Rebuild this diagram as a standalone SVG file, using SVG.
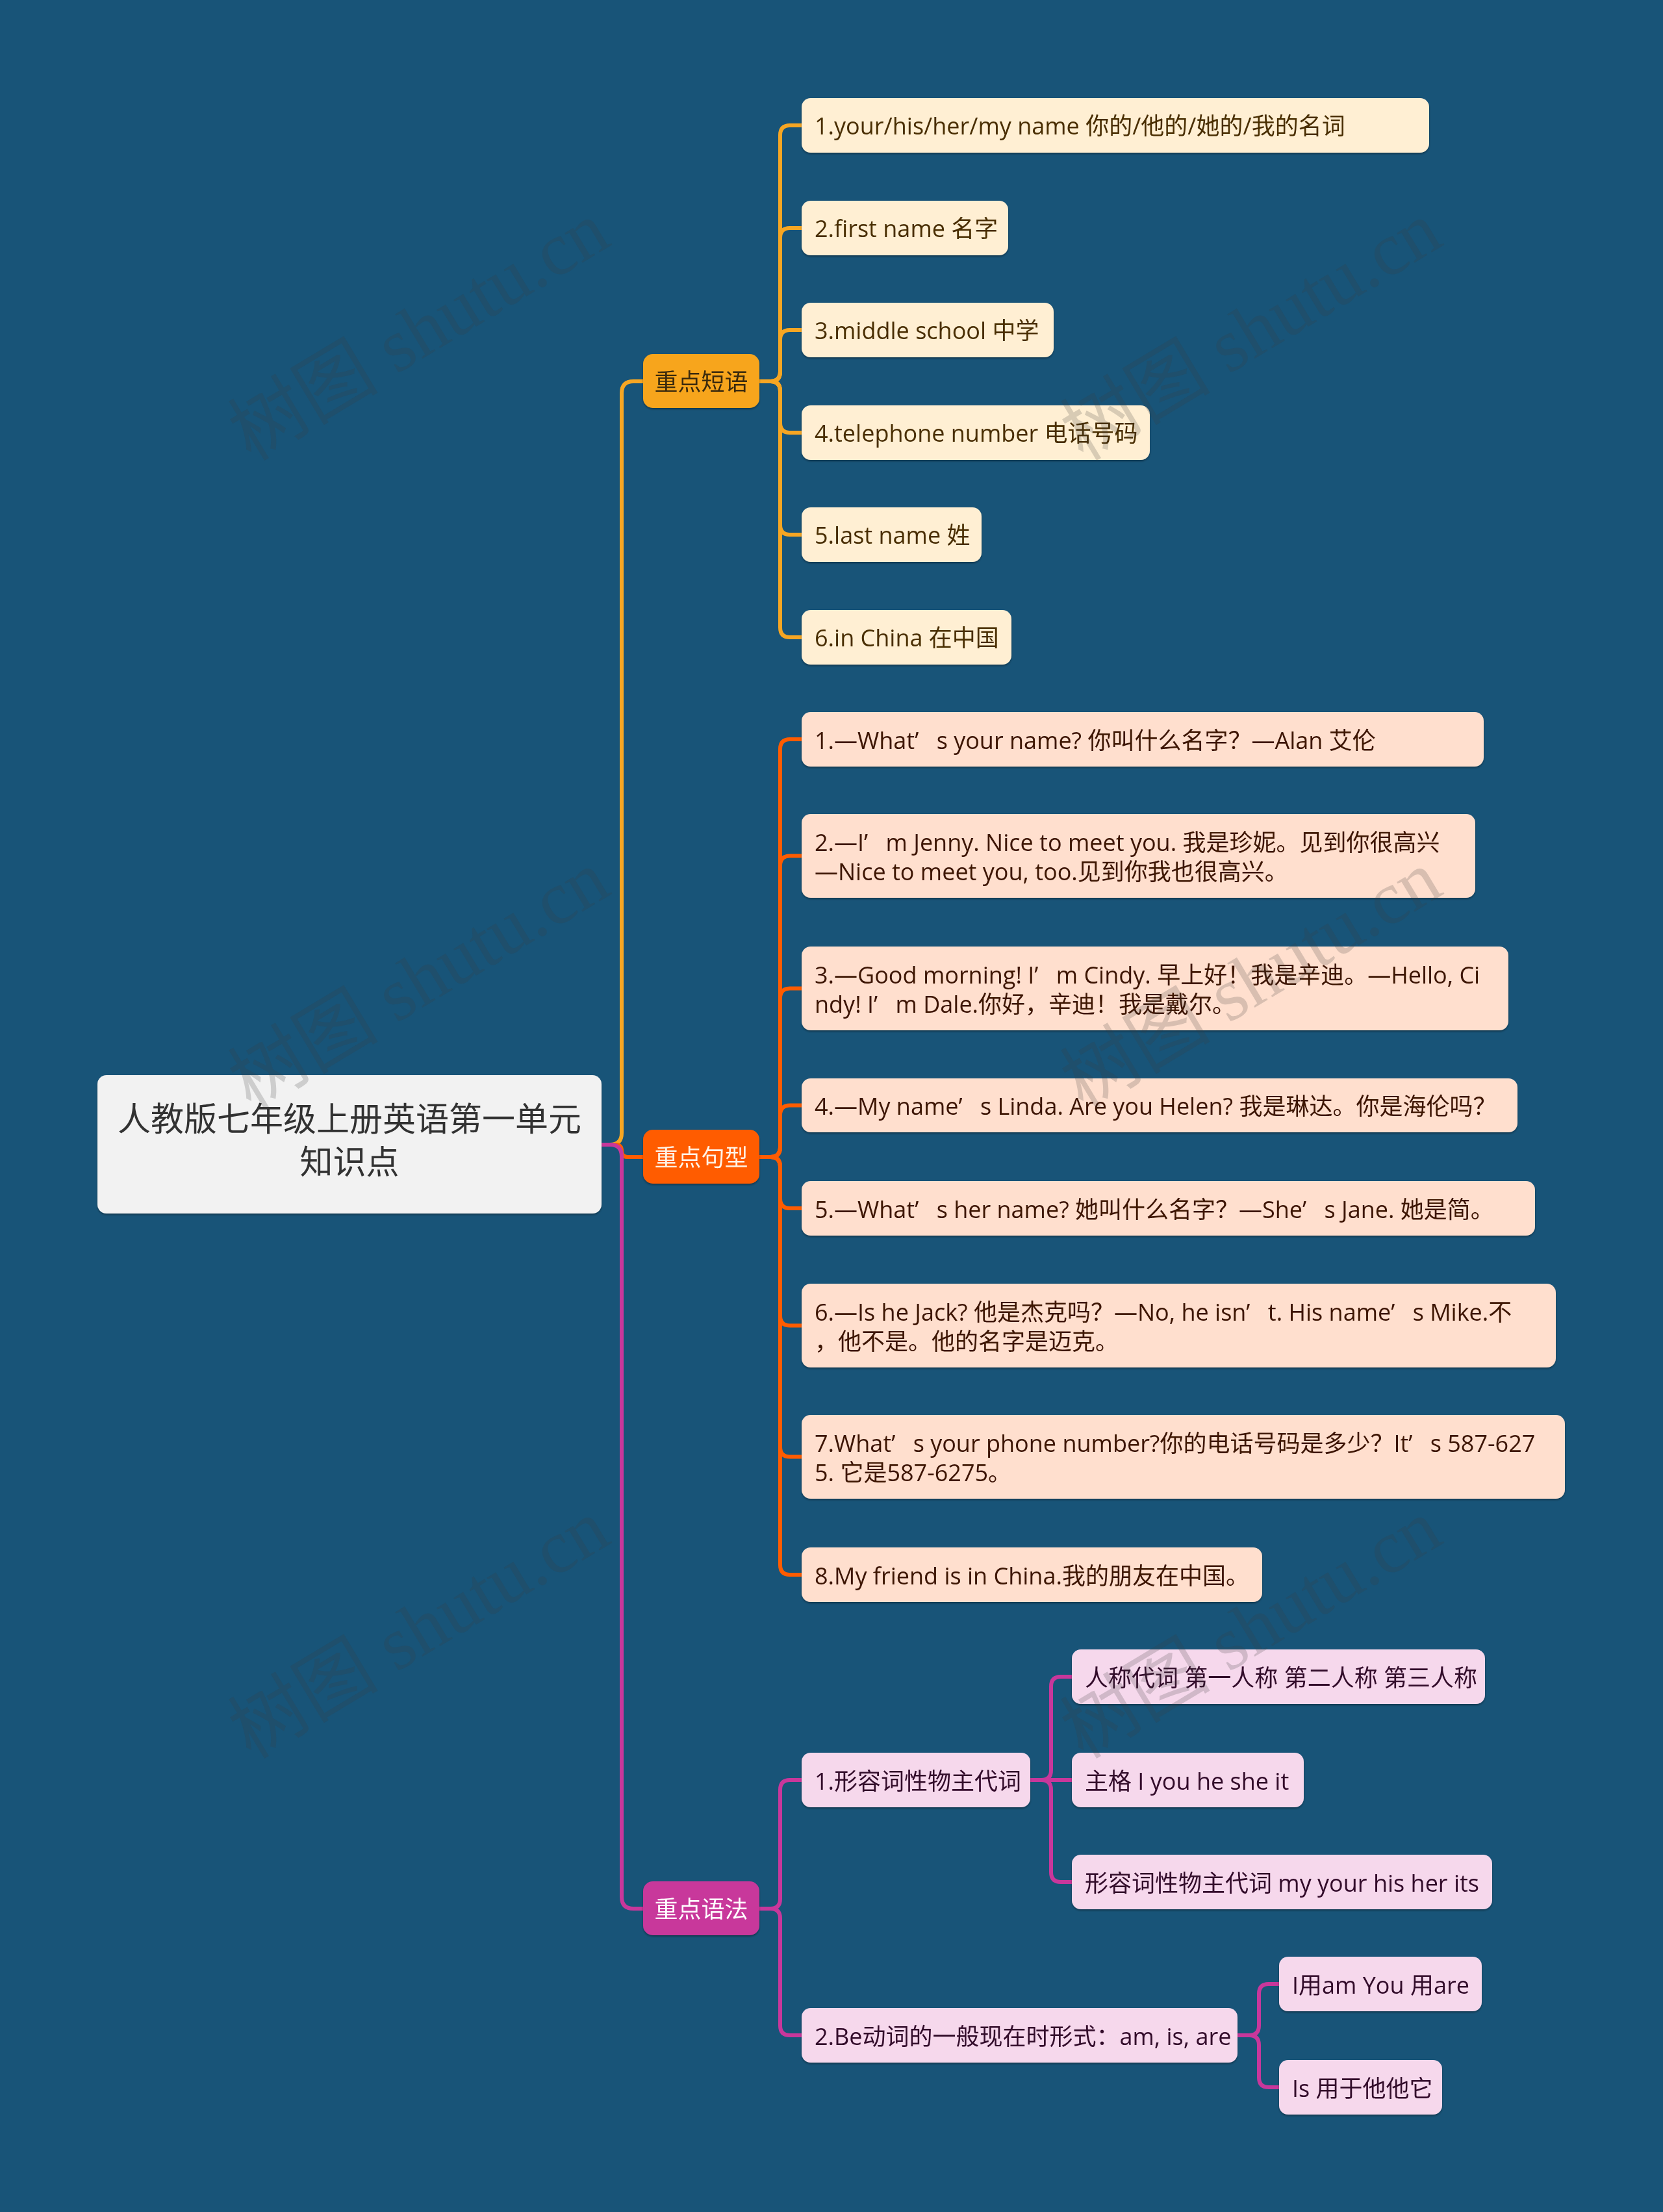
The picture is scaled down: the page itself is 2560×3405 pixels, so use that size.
<svg xmlns="http://www.w3.org/2000/svg" width="2560" height="3405" viewBox="0 0 2560 3405">
<defs>
<filter id="sh" x="-5%" y="-10%" width="110%" height="130%">
<feDropShadow dx="0" dy="2" stdDeviation="1.5" flood-color="#000" flood-opacity="0.35"/>
</filter>
<style>
text{font-family:"Open Sans","Noto Sans CJK SC",sans-serif;font-size:36px;dominant-baseline:central}
.c{fill:none;stroke-width:6;stroke-linecap:round;stroke-linejoin:round}
.co{stroke:#F6A623}
.cr{stroke:#FF5C00}
.cm{stroke:#C8379B}
.box{filter:url(#sh)}
.l1 rect{fill:#FFEFD3}
.l1 text{fill:#4A2E05}
.l2 rect{fill:#FFDFCE}
.l2 text{fill:#3C1206}
.l3 rect{fill:#F6D8EC}
.l3 text{fill:#33092B}
.wm{font-family:"Liberation Serif","Noto Sans CJK SC",serif;font-size:116px;fill:#3A3A3A;fill-opacity:0.2;text-anchor:middle}
</style>
</defs>
<rect width="2560" height="3405" fill="#185478"/>

<g id="connectors">
<path class="c co" d="M926,1762 H939 Q957,1762 957,1744 V605 Q957,587 975,587 H992"/>
<path class="c cr" d="M926,1762 H948 Q957,1762 957,1771.5 Q957,1781 966,1781 H992"/>
<path class="c cm" d="M926,1762 H939 Q957,1762 957,1780 V2920 Q957,2938 975,2938 H992"/>

<path class="c co" d="M1169,587 H1186 Q1201,587 1201,572 V208 Q1201,193 1216,193 H1236"/>
<path class="c co" d="M1169,587 H1186 Q1201,587 1201,572 V366 Q1201,351 1216,351 H1236"/>
<path class="c co" d="M1169,587 H1186 Q1201,587 1201,572 V523 Q1201,508 1216,508 H1236"/>
<path class="c co" d="M1169,587 H1186 Q1201,587 1201,602 V651 Q1201,666 1216,666 H1236"/>
<path class="c co" d="M1169,587 H1186 Q1201,587 1201,602 V808 Q1201,823 1216,823 H1236"/>
<path class="c co" d="M1169,587 H1186 Q1201,587 1201,602 V966 Q1201,981 1216,981 H1236"/>

<path class="c cr" d="M1169,1781 H1186 Q1201,1781 1201,1766 V1153 Q1201,1138 1216,1138 H1236"/>
<path class="c cr" d="M1169,1781 H1186 Q1201,1781 1201,1766 V1332.5 Q1201,1317.5 1216,1317.5 H1236"/>
<path class="c cr" d="M1169,1781 H1186 Q1201,1781 1201,1766 V1536.5 Q1201,1521.5 1216,1521.5 H1236"/>
<path class="c cr" d="M1169,1781 H1186 Q1201,1781 1201,1766 V1716.5 Q1201,1701.5 1216,1701.5 H1236"/>
<path class="c cr" d="M1169,1781 H1186 Q1201,1781 1201,1796 V1845 Q1201,1860 1216,1860 H1236"/>
<path class="c cr" d="M1169,1781 H1186 Q1201,1781 1201,1796 V2025.5 Q1201,2040.5 1216,2040.5 H1236"/>
<path class="c cr" d="M1169,1781 H1186 Q1201,1781 1201,1796 V2227.5 Q1201,2242.5 1216,2242.5 H1236"/>
<path class="c cr" d="M1169,1781 H1186 Q1201,1781 1201,1796 V2409 Q1201,2424 1216,2424 H1236"/>

<path class="c cm" d="M1169,2938 H1186 Q1201,2938 1201,2923 V2755 Q1201,2740 1216,2740 H1236"/>
<path class="c cm" d="M1169,2938 H1186 Q1201,2938 1201,2953 V3118 Q1201,3133 1216,3133 H1236"/>

<path class="c cm" d="M1586,2740 H1603 Q1618,2740 1618,2725 V2596 Q1618,2581 1633,2581 H1652"/>
<path class="c cm" d="M1586,2740 H1652"/>
<path class="c cm" d="M1586,2740 H1603 Q1618,2740 1618,2755 V2882 Q1618,2897 1633,2897 H1652"/>

<path class="c cm" d="M1905,3133 H1923 Q1938,3133 1938,3118 V3069 Q1938,3054 1953,3054 H1971"/>
<path class="c cm" d="M1905,3133 H1923 Q1938,3133 1938,3148 V3198 Q1938,3213 1953,3213 H1971"/>
</g>

<g id="root" class="box">
<rect x="150" y="1655" width="776" height="213" rx="14" fill="#F2F2F2"/>
<text x="538" y="1721" fill="#333333" text-anchor="middle" style="font-size:51px">人教版七年级上册英语第一单元</text>
<text x="538" y="1787" fill="#333333" text-anchor="middle" style="font-size:51px">知识点</text>
</g>

<g id="branch-duanyu" class="box">
<rect x="990" y="545" width="179" height="83" rx="15" fill="#F7A51E"/>
<text x="1079.5" y="587" text-anchor="middle" fill="#3A2A0E">重点短语</text>
</g>
<g id="branch-juxing" class="box">
<rect x="990" y="1739" width="179" height="83" rx="15" fill="#FF5C00"/>
<text x="1079.5" y="1781" text-anchor="middle" fill="#FFF3E6">重点句型</text>
</g>
<g id="branch-yufa" class="box">
<rect x="990" y="2896" width="179" height="83" rx="15" fill="#C8379B"/>
<text x="1079.5" y="2938" text-anchor="middle" fill="#FFFFFF">重点语法</text>
</g>

<g id="dy1" class="box l1"><rect x="1234" y="151" width="966" height="84" rx="14"/><text x="1254" y="193">1.your/his/her/my name 你的/他的/她的/我的名词</text></g>
<g id="dy2" class="box l1"><rect x="1234" y="309" width="318" height="84" rx="14"/><text x="1254" y="351">2.first name 名字</text></g>
<g id="dy3" class="box l1"><rect x="1234" y="466" width="388" height="84" rx="14"/><text x="1254" y="508">3.middle school 中学</text></g>
<g id="dy4" class="box l1"><rect x="1234" y="624" width="536" height="84" rx="14"/><text x="1254" y="666">4.telephone number 电话号码</text></g>
<g id="dy5" class="box l1"><rect x="1234" y="781" width="277" height="84" rx="14"/><text x="1254" y="823">5.last name 姓</text></g>
<g id="dy6" class="box l1"><rect x="1234" y="939" width="323" height="84" rx="14"/><text x="1254" y="981">6.in China 在中国</text></g>

<g id="jx1" class="box l2"><rect x="1234" y="1096" width="1050" height="84" rx="14"/><text x="1254" y="1139"><tspan>1.—What’ </tspan><tspan dx="18">s your name? 你叫什么名字？—Alan 艾伦</tspan></text></g>
<g id="jx2" class="box l2"><rect x="1234" y="1253" width="1037" height="129" rx="14"/><text x="1254" y="1296"><tspan>2.—I’ </tspan><tspan dx="18">m Jenny. Nice to meet you. 我是珍妮。见到你很高兴</tspan></text><text x="1254" y="1341">—Nice to meet you, too.见到你我也很高兴。</text></g>
<g id="jx3" class="box l2"><rect x="1234" y="1457" width="1088" height="129" rx="14"/><text x="1254" y="1500"><tspan>3.—Good morning! I’ </tspan><tspan dx="18">m Cindy. 早上好！我是辛迪。—Hello, Ci</tspan></text><text x="1254" y="1545"><tspan>ndy! I’ </tspan><tspan dx="18">m Dale.你好，辛迪！我是戴尔。</tspan></text></g>
<g id="jx4" class="box l2"><rect x="1234" y="1660" width="1102" height="83" rx="14"/><text x="1254" y="1702"><tspan>4.—My name’ </tspan><tspan dx="18">s Linda. Are you Helen? 我是琳达。你是海伦吗？</tspan></text></g>
<g id="jx5" class="box l2"><rect x="1234" y="1818" width="1129" height="84" rx="14"/><text x="1254" y="1861"><tspan>5.—What’ </tspan><tspan dx="18">s her name? 她叫什么名字？—She’ </tspan><tspan dx="18">s Jane. 她是简。</tspan></text></g>
<g id="jx6" class="box l2"><rect x="1234" y="1976" width="1161" height="129" rx="14"/><text x="1254" y="2019"><tspan>6.—Is he Jack? 他是杰克吗？—No, he isn’ </tspan><tspan dx="18">t. His name’ </tspan><tspan dx="18">s Mike.不</tspan></text><text x="1254" y="2064">，他不是。他的名字是迈克。</text></g>
<g id="jx7" class="box l2"><rect x="1234" y="2178" width="1175" height="129" rx="14"/><text x="1254" y="2221"><tspan>7.What’ </tspan><tspan dx="18">s your phone number?你的电话号码是多少？It’ </tspan><tspan dx="18">s 587-627</tspan></text><text x="1254" y="2266">5. 它是587-6275。</text></g>
<g id="jx8" class="box l2"><rect x="1234" y="2382" width="709" height="84" rx="14"/><text x="1254" y="2425">8.My friend is in China.我的朋友在中国。</text></g>

<g id="yf1" class="box l3"><rect x="1234" y="2698" width="352" height="84" rx="14"/><text x="1254" y="2741">1.形容词性物主代词</text></g>
<g id="yf1a" class="box l3"><rect x="1650" y="2539" width="636" height="84" rx="14"/><text x="1670" y="2582">人称代词 第一人称 第二人称 第三人称</text></g>
<g id="yf1b" class="box l3"><rect x="1650" y="2698" width="357" height="84" rx="14"/><text x="1670" y="2741">主格 I you he she it</text></g>
<g id="yf1c" class="box l3"><rect x="1650" y="2855" width="647" height="84" rx="14"/><text x="1670" y="2898">形容词性物主代词 my your his her its</text></g>
<g id="yf2" class="box l3"><rect x="1234" y="3091" width="671" height="84" rx="14"/><text x="1254" y="3134">2.Be动词的一般现在时形式：am, is, are</text></g>
<g id="yf2a" class="box l3"><rect x="1969" y="3012" width="312" height="84" rx="14"/><text x="1989" y="3055">I用am You 用are</text></g>
<g id="yf2b" class="box l3"><rect x="1969" y="3171" width="251" height="84" rx="14"/><text x="1989" y="3214">Is 用于他他它</text></g>

<g id="watermark">
<text class="wm" transform="translate(645,510) rotate(-31)">树图 shutu.cn</text>
<text class="wm" transform="translate(1926,510) rotate(-31)">树图 shutu.cn</text>
<text class="wm" transform="translate(645,1509) rotate(-31)">树图 shutu.cn</text>
<text class="wm" transform="translate(1926,1509) rotate(-31)">树图 shutu.cn</text>
<text class="wm" transform="translate(645,2508) rotate(-31)">树图 shutu.cn</text>
<text class="wm" transform="translate(1926,2508) rotate(-31)">树图 shutu.cn</text>
</g>
</svg>
